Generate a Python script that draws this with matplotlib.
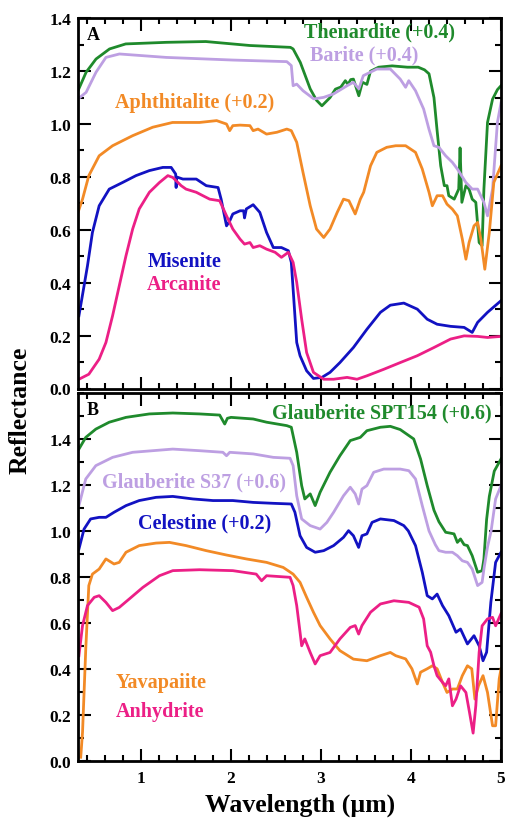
"""Sulfate reflectance spectra, two stacked panels (A: top, B: bottom)."""
import numpy as np
import matplotlib
matplotlib.use("Agg")
import matplotlib.pyplot as plt
from matplotlib.ticker import MultipleLocator

plt.rcParams["font.family"] = ["Liberation Serif", "DejaVu Serif"]
plt.rcParams["font.weight"] = "bold"

# ---- panel A ------------------------------------------------------------
thenardite_x = [0.30, 0.39, 0.50, 0.65, 0.83, 1.28, 1.72, 2.21, 2.66, 2.69,
                2.77, 2.88, 2.95, 3.01, 3.10, 3.16, 3.22, 3.27, 3.30, 3.33,
                3.36, 3.42, 3.46, 3.51, 3.55, 3.64, 3.79, 3.96, 4.08, 4.15,
                4.20, 4.255, 4.29, 4.33, 4.37, 4.40, 4.42, 4.48, 4.53, 4.545,
                4.565, 4.61, 4.645, 4.68, 4.72, 4.757, 4.79, 4.81, 4.85, 4.906,
                4.96, 5.0]
thenardite = [0.726, 0.796, 0.846, 0.884, 0.903, 0.909, 0.912, 0.897, 0.890, 0.884,
              0.833, 0.733, 0.69, 0.669, 0.70, 0.732, 0.74, 0.764, 0.75, 0.768,
              0.77, 0.707, 0.758, 0.75, 0.80, 0.815, 0.82, 0.815, 0.815, 0.805,
              0.79, 0.70, 0.575, 0.442, 0.367, 0.367, 0.329, 0.316, 0.354, 0.51,
              0.304, 0.367, 0.354, 0.316, 0.304, 0.152, 0.14, 0.354, 0.606, 0.694,
              0.73, 0.745]

barite_x = [0.30, 0.39, 0.50, 0.61, 0.76, 1.28, 2.02, 2.62, 2.67, 2.69,
            2.73, 2.80, 2.92, 3.03, 3.14, 3.29, 3.36, 3.42, 3.47, 3.62,
            3.77, 3.88, 3.94, 3.975, 4.05, 4.14, 4.20, 4.255, 4.31, 4.385,
            4.46, 4.515, 4.61, 4.68, 4.74, 4.81, 4.85, 4.906, 4.96, 5.0]
barite = [0.695, 0.72, 0.796, 0.852, 0.865, 0.852, 0.842, 0.836, 0.821, 0.745,
          0.751, 0.726, 0.695, 0.701, 0.714, 0.745, 0.758, 0.733, 0.783, 0.808,
          0.808, 0.77, 0.739, 0.764, 0.726, 0.657, 0.58, 0.518, 0.512, 0.48,
          0.455, 0.43, 0.379, 0.354, 0.354, 0.304, 0.253, 0.354, 0.606, 0.68]

aphthitalite_x = [0.30, 0.35, 0.42, 0.535, 0.684, 0.907, 1.13, 1.35, 1.65, 1.84,
                  1.95, 1.985, 2.02, 2.10, 2.21, 2.246, 2.30, 2.395, 2.51, 2.62,
                  2.67, 2.73, 2.80, 2.88, 2.95, 3.03, 3.10, 3.18, 3.25, 3.31,
                  3.38, 3.437, 3.474, 3.55, 3.62, 3.73, 3.83, 3.94, 4.05, 4.125,
                  4.20, 4.237, 4.29, 4.35, 4.40, 4.46, 4.515, 4.57, 4.61, 4.645,
                  4.70, 4.74, 4.776, 4.82, 4.87, 4.92, 5.0]
aphthitalite = [0.466, 0.516, 0.605, 0.68, 0.718, 0.756, 0.788, 0.806, 0.806, 0.813,
                0.80, 0.775, 0.794, 0.796, 0.794, 0.775, 0.781, 0.762, 0.769, 0.781,
                0.775, 0.731, 0.617, 0.491, 0.403, 0.371, 0.403, 0.466, 0.516, 0.51,
                0.46, 0.516, 0.542, 0.642, 0.693, 0.712, 0.718, 0.718, 0.693, 0.63,
                0.542, 0.491, 0.529, 0.529, 0.497, 0.478, 0.453, 0.365, 0.289, 0.352,
                0.415, 0.428, 0.365, 0.251, 0.39, 0.579, 0.642]

misenite_x = [0.31, 0.367, 0.405, 0.46, 0.535, 0.647, 0.795, 0.944, 1.093, 1.242,
              1.335, 1.385, 1.39, 1.395, 1.465, 1.614, 1.725, 1.856, 1.89, 1.95,
              1.986, 2.02, 2.10, 2.14, 2.15, 2.17, 2.246, 2.32, 2.395, 2.47,
              2.56, 2.637, 2.67, 2.71, 2.73, 2.767, 2.84, 2.916, 3.01, 3.10,
              3.21, 3.36, 3.51, 3.66, 3.77, 3.92, 4.07, 4.18, 4.29, 4.44,
              4.59, 4.68, 4.74, 4.85, 5.0]
misenite = [0.275, 0.388, 0.464, 0.59, 0.691, 0.754, 0.779, 0.805, 0.824, 0.836,
            0.836, 0.811, 0.76, 0.80, 0.792, 0.792, 0.767, 0.760, 0.716, 0.615,
            0.634, 0.66, 0.672, 0.672, 0.645, 0.679, 0.695, 0.666, 0.59, 0.533,
            0.533, 0.521, 0.477, 0.275, 0.174, 0.124, 0.067, 0.038, 0.042, 0.061,
            0.098, 0.155, 0.224, 0.288, 0.315, 0.323, 0.30, 0.262, 0.243, 0.235,
            0.231, 0.212, 0.25, 0.288, 0.332]

arcanite_x = [0.31, 0.42, 0.535, 0.61, 0.684, 0.758, 0.833, 0.907, 0.98, 1.093,
              1.205, 1.298, 1.353, 1.446, 1.50, 1.614, 1.688, 1.763, 1.874, 1.95,
              2.02, 2.10, 2.15, 2.21, 2.246, 2.32, 2.395, 2.49, 2.56, 2.637,
              2.69, 2.73, 2.785, 2.84, 2.916, 3.03, 3.14, 3.29, 3.40, 3.51,
              3.70, 3.88, 4.07, 4.255, 4.44, 4.59, 4.74, 4.85, 5.0]
arcanite = [0.035, 0.054, 0.111, 0.174, 0.275, 0.388, 0.502, 0.603, 0.679, 0.742,
            0.779, 0.805, 0.798, 0.767, 0.754, 0.742, 0.729, 0.716, 0.710, 0.653,
            0.603, 0.565, 0.546, 0.552, 0.533, 0.54, 0.527, 0.515, 0.496, 0.515,
            0.477, 0.401, 0.262, 0.136, 0.061, 0.035, 0.035, 0.042, 0.035, 0.048,
            0.073, 0.098, 0.124, 0.155, 0.187, 0.199, 0.197, 0.193, 0.197]

# ---- panel B ------------------------------------------------------------
spt154_x = [0.31, 0.386, 0.498, 0.647, 0.833, 1.093, 1.353, 1.65, 1.874, 1.93,
            1.96, 2.0, 2.246, 2.395, 2.62, 2.67, 2.73, 2.785, 2.82, 2.88,
            2.935, 2.99, 3.10, 3.21, 3.325, 3.437, 3.51, 3.66, 3.77, 3.88,
            4.03, 4.106, 4.18, 4.255, 4.31, 4.385, 4.44, 4.478, 4.515, 4.55,
            4.59, 4.627, 4.68, 4.74, 4.79, 4.81, 4.84, 4.87, 4.925, 5.0]
spt154 = [0.756, 0.807, 0.843, 0.873, 0.894, 0.909, 0.913, 0.909, 0.904, 0.865,
          0.89, 0.894, 0.887, 0.873, 0.858, 0.851, 0.742, 0.597, 0.539, 0.561,
          0.51, 0.568, 0.655, 0.727, 0.793, 0.807, 0.836, 0.851, 0.855, 0.841,
          0.80, 0.713, 0.597, 0.49, 0.44, 0.394, 0.39, 0.387, 0.35, 0.365,
          0.34, 0.336, 0.292, 0.22, 0.227, 0.278, 0.45, 0.55, 0.66, 0.713]

s37_x = [0.31, 0.386, 0.498, 0.684, 0.907, 1.13, 1.353, 1.65, 1.91, 1.95,
         1.986, 2.246, 2.47, 2.656, 2.69, 2.73, 2.785, 2.88, 2.99, 3.065,
         3.14, 3.25, 3.325, 3.38, 3.418, 3.455, 3.51, 3.585, 3.697, 3.88,
         3.976, 4.05, 4.125, 4.20, 4.27, 4.31, 4.385, 4.46, 4.515, 4.57,
         4.627, 4.68, 4.74, 4.79, 4.81, 4.85, 4.89, 4.94, 5.0]
s37 = [0.51, 0.626, 0.684, 0.72, 0.742, 0.749, 0.756, 0.749, 0.742, 0.727,
       0.742, 0.735, 0.72, 0.716, 0.684, 0.553, 0.452, 0.423, 0.408, 0.437,
       0.481, 0.553, 0.59, 0.561, 0.517, 0.582, 0.597, 0.655, 0.669, 0.669,
       0.662, 0.626, 0.51, 0.40, 0.34, 0.314, 0.307, 0.307, 0.292, 0.27,
       0.263, 0.234, 0.162, 0.176, 0.234, 0.33, 0.40, 0.539, 0.597]

celestine_x = [0.31, 0.367, 0.44, 0.535, 0.61, 0.70, 0.833, 0.98, 1.167, 1.353,
               1.577, 1.80, 2.02, 2.246, 2.47, 2.67, 2.71, 2.767, 2.84, 2.935,
               3.03, 3.14, 3.25, 3.306, 3.36, 3.418, 3.455, 3.51, 3.567, 3.66,
               3.81, 3.92, 3.97, 4.05, 4.125, 4.18, 4.237, 4.29, 4.35, 4.42,
               4.50, 4.55, 4.627, 4.70, 4.757, 4.80, 4.84, 4.887, 4.94, 5.0]
celestine = [0.721, 0.808, 0.852, 0.859, 0.859, 0.881, 0.91, 0.932, 0.946, 0.95,
             0.939, 0.932, 0.932, 0.924, 0.92, 0.917, 0.881, 0.779, 0.728, 0.707,
             0.714, 0.736, 0.772, 0.801, 0.779, 0.728, 0.779, 0.787, 0.837, 0.852,
             0.845, 0.823, 0.80, 0.736, 0.62, 0.518, 0.504, 0.525, 0.475, 0.431,
             0.359, 0.373, 0.308, 0.344, 0.30, 0.235, 0.272, 0.489, 0.663, 0.707]

yavapaiite_x = [0.33, 0.35, 0.386, 0.42, 0.46, 0.535, 0.61, 0.70, 0.758, 0.833,
                0.98, 1.167, 1.316, 1.50, 1.725, 1.95, 2.17, 2.395, 2.58, 2.69,
                2.767, 2.84, 2.916, 2.99, 3.10, 3.21, 3.36, 3.51, 3.66, 3.77,
                3.83, 3.94, 4.01, 4.07, 4.106, 4.18, 4.237, 4.29, 4.35, 4.40,
                4.46, 4.515, 4.57, 4.627, 4.675, 4.71, 4.75, 4.80, 4.85, 4.906,
                4.94, 4.98, 5.0]
yavapaiite = [0.015, 0.123, 0.486, 0.762, 0.812, 0.834, 0.878, 0.856, 0.863, 0.907,
              0.936, 0.947, 0.950, 0.936, 0.914, 0.895, 0.878, 0.863, 0.841, 0.812,
              0.776, 0.711, 0.646, 0.588, 0.530, 0.479, 0.442, 0.435, 0.457, 0.471,
              0.457, 0.443, 0.40, 0.334, 0.385, 0.40, 0.413, 0.40, 0.341, 0.297,
              0.312, 0.312, 0.37, 0.413, 0.40, 0.268, 0.326, 0.37, 0.297, 0.152,
              0.152, 0.356, 0.40]

anhydrite_x = [0.31, 0.35, 0.405, 0.48, 0.535, 0.61, 0.684, 0.758, 0.87, 1.02,
               1.205, 1.353, 1.65, 2.02, 2.28, 2.34, 2.395, 2.656, 2.69, 2.73,
               2.767, 2.785, 2.82, 2.88, 2.935, 2.99, 3.10, 3.21, 3.325, 3.38,
               3.418, 3.455, 3.55, 3.66, 3.81, 3.975, 4.09, 4.14, 4.18, 4.218,
               4.255, 4.29, 4.35, 4.385, 4.42, 4.46, 4.50, 4.55, 4.61, 4.65,
               4.69, 4.72, 4.757, 4.79, 4.85, 4.906, 4.94, 5.0]
anhydrite = [0.457, 0.588, 0.675, 0.711, 0.718, 0.689, 0.653, 0.667, 0.704, 0.754,
             0.805, 0.827, 0.831, 0.827, 0.812, 0.783, 0.805, 0.798, 0.762, 0.675,
             0.559, 0.50, 0.530, 0.471, 0.421, 0.457, 0.471, 0.530, 0.580, 0.588,
             0.551, 0.588, 0.646, 0.682, 0.696, 0.689, 0.668, 0.617, 0.50, 0.472,
             0.413, 0.37, 0.341, 0.326, 0.356, 0.239, 0.268, 0.326, 0.297, 0.21,
             0.12, 0.239, 0.472, 0.587, 0.617, 0.624, 0.587, 0.64]

GREEN = "#1f8a2c"
LILAC = "#bd9fe2"
ORANGE = "#f28a26"
BLUE = "#1212c2"
PINK = "#ec1f86"

# (x, y, vertical offset, colour, label, label x, label y)
PANEL_A = [
    (thenardite_x, thenardite, 0.4, GREEN, "Thenardite (+0.4)", 3.65, 1.35),
    (barite_x, barite, 0.4, LILAC, "Barite (+0.4)", 3.48, 1.264),
    (aphthitalite_x, aphthitalite, 0.2, ORANGE, "Aphthitalite (+0.2)", 1.60, 1.083),
    (misenite_x, misenite, 0.0, BLUE, "Misenite", 1.48, 0.482),
    (arcanite_x, arcanite, 0.0, PINK, "Arcanite", 1.48, 0.395),
]
PANEL_B = [
    (spt154_x, spt154, 0.6, GREEN, "Glauberite SPT154 (+0.6)", 3.68, 1.517),
    (s37_x, s37, 0.6, LILAC, "Glauberite S37 (+0.6)", 1.59, 1.217),
    (celestine_x, celestine, 0.2, BLUE, "Celestine (+0.2)", 1.71, 1.038),
    (yavapaiite_x, yavapaiite, 0.0, ORANGE, "Yavapaiite", 1.22, 0.342),
    (anhydrite_x, anhydrite, 0.0, PINK, "Anhydrite", 1.215, 0.217),
]


def style_axes(ax, ymax, show_x):
    ax.set_xlim(0.3, 5.0)
    ax.set_ylim(0.0, ymax)
    ax.xaxis.set_major_locator(MultipleLocator(1))
    ax.xaxis.set_minor_locator(MultipleLocator(0.2))
    ax.set_yticks(np.arange(0, 1.41, 0.2))
    ax.yaxis.set_minor_locator(MultipleLocator(0.1))
    ax.tick_params(which="both", direction="in", top=True, right=True,
                   width=1.5, labelsize=12.5)
    ax.tick_params(which="major", length=9)
    ax.tick_params(which="minor", length=4.5)
    ax.tick_params(axis="y", pad=5)
    ax.tick_params(axis="x", pad=7, labelbottom=show_x)
    ax.yaxis.set_major_formatter(matplotlib.ticker.FormatStrFormatter("%.1f"))
    for s in ax.spines.values():
        s.set_linewidth(2.0)


def draw(ax, series):
    for x, y, off, col, label, lx, ly in series:
        ax.plot(x, np.asarray(y) + off, color=col, lw=2.0, solid_joinstyle="round")
        ax.text(lx, ly, label, color=col, fontsize=14.5, fontweight="bold",
                ha="center", va="center")


fig = plt.figure(figsize=(5.05, 8.2), dpi=100)
ax_a = fig.add_axes([0.1545, 0.525, 0.8376, 0.4515])
ax_b = fig.add_axes([0.1545, 0.0711, 0.8376, 0.4484])

draw(ax_a, PANEL_A)
draw(ax_b, PANEL_B)
style_axes(ax_a, 1.4, False)
style_axes(ax_b, 1.6, True)

ax_a.text(0.40, 1.34, "A", fontsize=13, fontweight="bold", va="center")
ax_b.text(0.40, 1.53, "B", fontsize=13, fontweight="bold", va="center")

fig.text(0.04, 0.50, "Reflectance", rotation=90, fontsize=18.5,
         fontweight="bold", ha="center", va="center")
fig.text(0.594, 0.018, "Wavelength (\u00b5m)", fontsize=18.5,
         fontweight="bold", ha="center", va="center")

fig.savefig("out.png", dpi=100)
